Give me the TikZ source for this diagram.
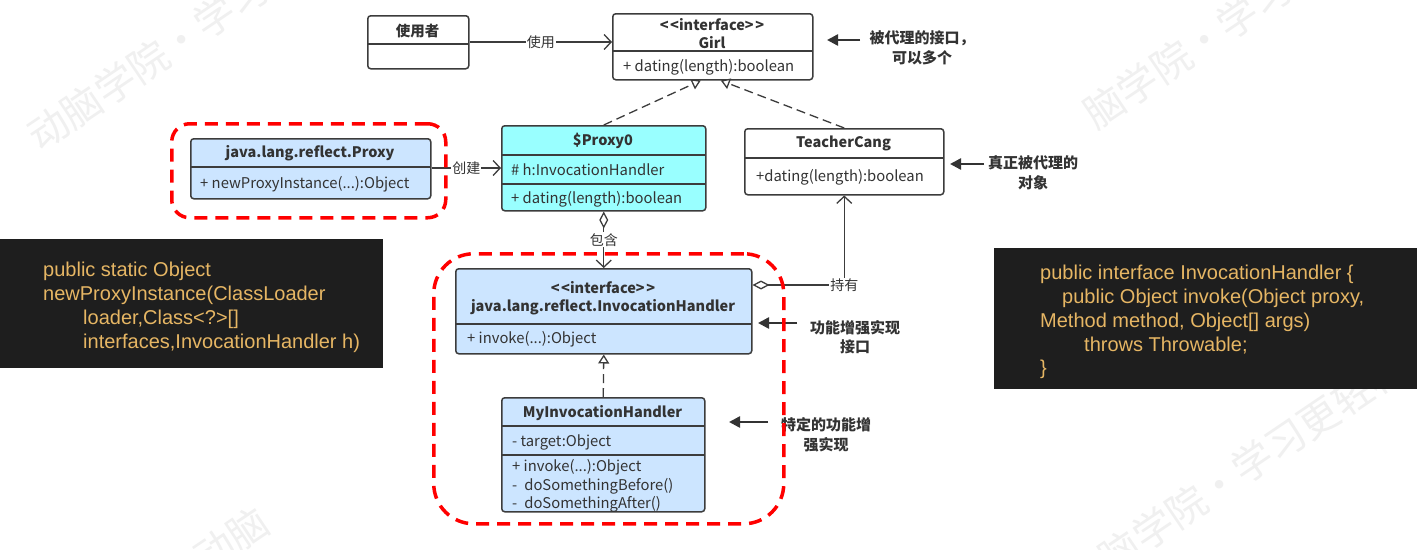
\documentclass[tikz,border=0pt]{standalone}
\usepackage{fontspec}
\setmainfont{Noto Sans CJK SC}
\newfontfamily\codefont{Liberation Sans}
\usetikzlibrary{arrows.meta,calc}
\definecolor{boxline}{HTML}{3C3C3C}
\definecolor{lblue}{HTML}{CCE5FF}
\definecolor{lcyan}{HTML}{99FFFF}
\definecolor{codebg}{HTML}{1E1E1E}
\definecolor{codefg}{HTML}{E6B664}
\definecolor{anncol}{HTML}{333333}
\definecolor{txt}{HTML}{333333}
\begin{document}
\begin{tikzpicture}[x=1pt,y=-1pt,
  umlbox/.style={draw=boxline, line width=1.5pt, rounded corners=3pt, inner sep=0pt, anchor=north west},
  sepline/.style={draw=boxline, line width=1.5pt},
  ttl/.style={font=\fontsize{14.5}{16}\selectfont\bfseries, text=txt, inner sep=0pt},
  mem/.style={font=\fontsize{14.8}{16}\selectfont, text=txt, anchor=west, inner sep=0pt},
  conn/.style={draw=boxline, line width=1.3pt},
  dconn/.style={draw=boxline, line width=1.3pt, dash pattern=on 9pt off 5pt},
  lbl/.style={fill=white, inner sep=1pt, font=\fontsize{14}{16}\selectfont, text=txt},
  openhead/.style={-{Straight Barb[length=7pt,width=15pt,line width=1.3pt]}},
  trihead/.style={-{Triangle[open,length=9pt,width=11pt,line width=1.3pt,fill=white]}},
  annarrow/.style={draw=anncol, line width=2.5pt, -{Triangle[length=11pt,width=11pt]}},
  annt/.style={font=\fontsize{15}{19.5}\selectfont\bfseries, text=anncol, align=center, inner sep=0pt},
  reddash/.style={draw=red, line width=3.5pt, dash pattern=on 13pt off 8pt, inner sep=0pt, anchor=north west},
  codebox/.style={fill=codebg, inner sep=0pt, anchor=north west},
  code/.style={font=\codefont\fontsize{20}{24}\selectfont, text=codefg, anchor=west, inner sep=0pt},
  wmark/.style={font=\fontsize{40}{42}\selectfont, text=black!6, rotate=34, anchor=west, inner sep=0pt}
]
\useasboundingbox (0,0) rectangle (1424,549);
\clip (0,0) rectangle (1424,549);
\fill[white] (0,0) rectangle (1424,549);

% watermarks
\node[wmark] (wm1) at (32,140) {动脑学院·学习更轻松};
\node[wmark] (wm2) at (1088,118) {脑学院·学习更轻松};
\node[wmark] (wm3) at (1070,585) {动脑学院·学习更轻松};
\node[wmark] (wm4) at (198,562) {动脑};

% code boxes
\node[codebox, minimum width=383pt, minimum height=129pt] (codeL) at (0,239) {};
\node[code] (cl1) at (43,271) {public static Object};
\node[code] (cl2) at (43,295) {newProxyInstance(ClassLoader};
\node[code] (cl3) at (83,319) {loader,Class<?>[]};
\node[code] (cl4) at (83,343) {interfaces,InvocationHandler h)};

\node[codebox, minimum width=423pt, minimum height=141pt] (codeR) at (994,248) {};
\node[code] (cr1) at (1040,274) {public interface InvocationHandler \{};
\node[code] (cr2) at (1062,298) {public Object invoke(Object proxy,};
\node[code] (cr3) at (1040,322) {Method method, Object[] args)};
\node[code] (cr4) at (1084,346) {throws Throwable;};
\node[code] (cr5) at (1040,369) {\}};

% user
\node[umlbox, fill=white, minimum width=101pt, minimum height=53pt] (user) at (367,15) {};
\draw[sepline] (367,44) -- (468,44);
\node[ttl] (userT) at (417.5,31) {使用者};

% Girl
\node[umlbox, fill=white, minimum width=200pt, minimum height=66pt] (girl) at (612,13) {};
\node[ttl] (girlS) at (712,25) {<\kern1.5pt<interface>\kern1.5pt>};
\node[ttl] (girlT) at (712,43) {Girl};
\draw[sepline] (612,51) -- (812,51);
\node[mem] (girlM) at (623,67) {+ dating(length):boolean};

% Proxy
\node[umlbox, fill=lblue, minimum width=240pt, minimum height=60pt] (proxy) at (190,138) {};
\node[ttl] (proxyT) at (310,153) {java.lang.reflect.Proxy};
\draw[sepline] (190,167) -- (430,167);
\node[mem] (proxyM) at (200,184) {+ newProxyInstance(...):Object};

% $Proxy0
\node[umlbox, fill=lcyan, minimum width=204pt, minimum height=85pt] (proxy0) at (501,125) {};
\node[ttl] (proxy0T) at (603,141) {\$Proxy0};
\draw[sepline] (501,155) -- (705,155);
\node[mem] (proxy0A) at (511,170) {\# h:InvocationHandler};
\draw[sepline] (501,184) -- (705,184);
\node[mem] (proxy0M) at (511,199) {+ dating(length):boolean};

% TeacherCang
\node[umlbox, fill=white, minimum width=199pt, minimum height=66pt] (teacher) at (744,128) {};
\node[ttl] (teacherT) at (843.5,143) {TeacherCang};
\draw[sepline] (744,158) -- (943,158);
\node[mem] (teacherM) at (756,177) {+dating(length):boolean};

% InvocationHandler
\node[umlbox, fill=lblue, minimum width=296pt, minimum height=85pt] (ih) at (455,268) {};
\node[ttl] (ihS) at (603,288) {<\kern1.5pt<interface>\kern1.5pt>};
\node[ttl] (ihT) at (603,307) {java.lang.reflect.InvocationHandler};
\draw[sepline] (455,324) -- (751,324);
\node[mem] (ihM) at (467,339) {+ invoke(...):Object};

% MyInvocationHandler
\node[umlbox, fill=lblue, minimum width=203pt, minimum height=114pt] (myih) at (501,397) {};
\node[ttl] (myihT) at (602.5,413) {MyInvocationHandler};
\draw[sepline] (501,426) -- (704,426);
\node[mem] (myihA) at (512,442) {- target:Object};
\draw[sepline] (501,455) -- (704,455);
\node[mem] (myihM1) at (512,467) {+ invoke(...):Object};
\node[mem] (myihM2) at (512,486) {-\hspace{7pt}doSomethingBefore()};
\node[mem] (myihM3) at (512,504) {-\hspace{7pt}doSomethingAfter()};

% connectors
\draw[conn, openhead] ($(user.north east)+(0,27)$) -- node[lbl] {使用} ($(girl.north west)+(0,29)$);
\draw[conn, openhead] ($(proxy.north east)+(0,30)$) -- node[lbl] {创建} ($(proxy0.north west)+(0,43)$);
\draw[dconn, trihead] (proxy0.north) -- ($(girl.south)+(-12,0)$);
\draw[dconn, trihead] (teacher.north) -- ($(girl.south)+(8,0)$);
\draw[conn, {Diamond[open,length=17pt,width=9pt,line width=1.3pt,fill=white]}-{Straight Barb[length=7pt,width=15pt,line width=1.3pt]}]
  (proxy0.south) -- node[lbl] {包含} (ih.north);
\draw[conn, {Diamond[open,length=17pt,width=9pt,line width=1.3pt,fill=white]}-{Straight Barb[length=7pt,width=15pt,line width=1.3pt]}]
  ($(ih.north east)+(0,17)$) -| node[lbl, pos=0.5] {持有} (teacher.south);
\draw[dconn, trihead] (myih.north) -- (ih.south);

% annotations
\node[annt] (ann1) at (922,48) {被代理的接口，\\可以多个};
\node[annt] (ann2) at (1033,173) {真正被代理的\\对象};
\node[annt] (ann3) at (855,337) {功能增强实现\\接口};
\node[annt] (ann4) at (826,435) {特定的功能增\\强实现};
\coordinate (a1s) at (860,40); \coordinate (a1e) at (827,40);
\coordinate (a2s) at (984,164); \coordinate (a2e) at (950,164);
\coordinate (a3s) at (797,323); \coordinate (a3e) at (758,323);
\coordinate (a4s) at (768,422); \coordinate (a4e) at (729,422);
\draw[annarrow] (a1s) -- (a1e);
\draw[annarrow] (a2s) -- (a2e);
\draw[annarrow] (a3s) -- (a3e);
\draw[annarrow] (a4s) -- (a4e);

% red dashed groups
\node[reddash, rounded corners=18pt, minimum width=274pt, minimum height=94pt] (grp1) at (170,122) {};
\node[reddash, rounded corners=40pt, minimum width=350pt, minimum height=270pt] (grp2) at (432,252) {};
\end{tikzpicture}
\end{document}
